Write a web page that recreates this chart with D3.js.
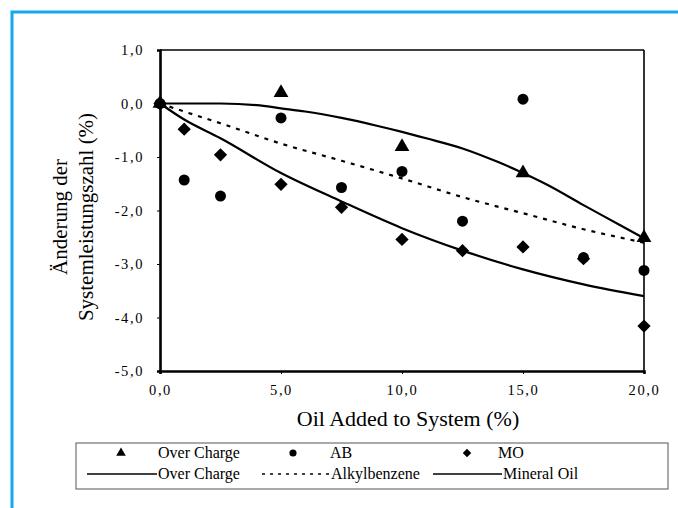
<!DOCTYPE html>
<html>
<head>
<meta charset="utf-8">
<script src="https://cdn.jsdelivr.net/npm/d3@7"></script>
</head>
<body style="margin:0;background:#fff">
<div id="chart"></div>
<script>
// measured points
const overChargeX = [0, 5, 10, 15, 20];
const overChargeY = [0, 0.2, -0.81, -1.3, -2.51];

const abX = [0, 1, 2.5, 5, 7.5, 10, 12.5, 15, 17.5, 20];
const abY = [0, -1.43, -1.73, -0.27, -1.57, -1.27, -2.2, 0.08, -2.88, -3.12];

const moX = [0, 1, 2.5, 5, 7.5, 10, 12.5, 15, 17.5, 20];
const moY = [0, -0.48, -0.96, -1.51, -1.94, -2.54, -2.75, -2.68, -2.9, -4.16];

// fitted curves
const fitOverX = [0, 2.5, 4, 5, 6, 7.5, 9, 10, 11, 12.5, 14, 15, 16, 17.5, 19, 20];
const fitOverY = [0, 0, -0.03, -0.09, -0.15, -0.27, -0.42, -0.53, -0.65, -0.84, -1.1, -1.3, -1.52, -1.9, -2.27, -2.52];

const fitAbX = [0, 1, 2.5, 5, 7.5, 10, 12.5, 15, 17.5, 20];
const fitAbY = [0, -0.15, -0.37, -0.75, -1.07, -1.4, -1.75, -2.05, -2.35, -2.6];

const fitMoX = [0, 1, 2.5, 5, 7.5, 10, 12.5, 15, 17.5, 20];
const fitMoY = [0, -0.3, -0.65, -1.3, -1.83, -2.33, -2.75, -3.1, -3.38, -3.6];

const xTicks = [0, 5, 10, 15, 20];
const yTicks = [1, 0, -1, -2, -3, -4, -5];

const serif = "Liberation Serif";

const width = 678;
const height = 508;
const fmt = v => v.toFixed(1).replace(".", ",");

const svg = d3.select("#chart").append("svg")
    .attr("width", width)
    .attr("height", height)
    .attr("font-family", serif);

// blue frame
svg.append("rect")
    .attr("x", 12).attr("y", 12)
    .attr("width", 700).attr("height", 600)
    .attr("fill", "none")
    .attr("stroke", "#12a9ea")
    .attr("stroke-width", 3);

const x = d3.scaleLinear().domain([0, 20]).range([160, 644]);
const y = d3.scaleLinear().domain([-5, 1]).range([371, 50]);

const g = svg.append("g");

// top and right edge of the plot
g.append("line").attr("x1", 160).attr("x2", 644).attr("y1", 50).attr("y2", 50)
    .attr("stroke", "#000").attr("stroke-width", 1.6);
g.append("line").attr("x1", 644).attr("x2", 644).attr("y1", 50).attr("y2", 371)
    .attr("stroke", "#000").attr("stroke-width", 1.6);

const yAxis = d3.axisLeft(y).tickValues(yTicks).tickSize(3).tickPadding(13).tickFormat(fmt);
const xAxis = d3.axisBottom(x).tickValues(xTicks).tickSize(3).tickPadding(11).tickFormat(fmt);

const ya = g.append("g").attr("transform", "translate(160,0)").call(yAxis);
const xa = g.append("g").attr("transform", "translate(0,371)").call(xAxis);
[ya, xa].forEach(a => {
    a.attr("font-family", serif).attr("font-size", 14.5);
    a.select(".domain").attr("stroke", "#000").attr("stroke-width", 2.6);
    a.selectAll("text")
        .attr("font-family", serif)
        .attr("letter-spacing", 1.6);
});

// axis titles
svg.append("text")
    .attr("x", 408).attr("y", 426)
    .attr("text-anchor", "middle")
    .attr("font-family", serif)
    .attr("font-size", 22)
    .text("Oil Added to System (%)");

const yt = svg.append("text")
    .attr("transform", "translate(0,217) rotate(-90)")
    .attr("text-anchor", "middle")
    .attr("font-family", serif)
    .attr("font-size", 21);
yt.append("tspan").attr("x", 0).attr("y", 67).text("Änderung der");
yt.append("tspan").attr("x", 0).attr("y", 93).text("Systemleistungszahl (%)");

// curves
const line = d3.line().x(d => x(d[0])).y(d => y(d[1])).curve(d3.curveMonotoneX);
const curves = [
    { xs: fitOverX, ys: fitOverY, dash: null },
    { xs: fitAbX, ys: fitAbY, dash: "4,6" },
    { xs: fitMoX, ys: fitMoY, dash: null }
];
curves.forEach(c => {
    g.append("path")
        .datum(c.xs.map((v, i) => [v, c.ys[i]]))
        .attr("d", line)
        .attr("fill", "none")
        .attr("stroke", "#000")
        .attr("stroke-width", 2.2)
        .attr("stroke-dasharray", c.dash);
});

// markers
const tri = d3.symbol().type(d3.symbolTriangle).size(95);
const circ = d3.symbol().type(d3.symbolCircle).size(95);
const dia = d3.symbol().type(d3.symbolSquare).size(88);

function drawPoints(xs, ys, sym, rot) {
    g.selectAll(null)
        .data(xs.map((v, i) => [v, ys[i]]))
        .enter().append("path")
        .attr("d", sym)
        .attr("transform", d => `translate(${x(d[0])},${y(d[1])}) rotate(${rot})`)
        .attr("fill", "#000");
}
drawPoints(moX, moY, dia, 45);
drawPoints(abX, abY, circ, 0);
drawPoints(overChargeX, overChargeY, tri, 0);

// legend
const lg = svg.append("g");
lg.append("rect")
    .attr("x", 76).attr("y", 443)
    .attr("width", 592).attr("height", 46)
    .attr("fill", "#fff")
    .attr("stroke", "#555")
    .attr("stroke-width", 1);

const legRow1 = [
    { sym: d3.symbol().type(d3.symbolTriangle).size(40), rot: 0, mx: 121, tx: 158, label: "Over Charge" },
    { sym: d3.symbol().type(d3.symbolCircle).size(40), rot: 0, mx: 293, tx: 330, label: "AB" },
    { sym: d3.symbol().type(d3.symbolSquare).size(36), rot: 45, mx: 467, tx: 498, label: "MO" }
];
legRow1.forEach(d => {
    lg.append("path").attr("d", d.sym)
        .attr("transform", `translate(${d.mx},453) rotate(${d.rot})`)
        .attr("fill", "#000");
    lg.append("text").attr("x", d.tx).attr("y", 458)
        .attr("font-family", serif)
        .attr("font-size", 16).text(d.label);
});

const legRow2 = [
    { x1: 87, x2: 157, dash: null, label: "Over Charge" },
    { x1: 262, x2: 330, dash: "3,5", label: "Alkylbenzene" },
    { x1: 433, x2: 502, dash: null, label: "Mineral Oil" }
];
legRow2.forEach(d => {
    lg.append("line").attr("x1", d.x1).attr("x2", d.x2)
        .attr("y1", 474).attr("y2", 474)
        .attr("stroke", "#000").attr("stroke-width", 1.6)
        .attr("stroke-dasharray", d.dash);
    lg.append("text").attr("x", d.x2 + 1).attr("y", 479)
        .attr("font-family", serif)
        .attr("font-size", 16).text(d.label);
});
</script>
</body>
</html>
